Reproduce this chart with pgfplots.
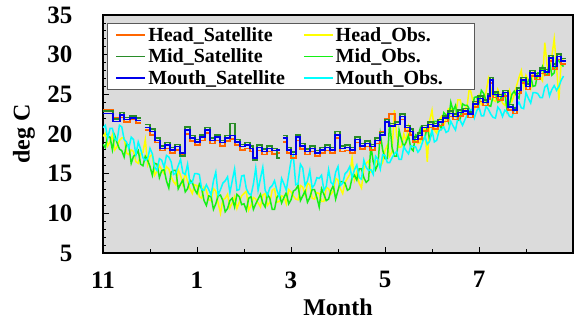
\documentclass[border=0pt]{standalone}
\usepackage{fontspec}
\setmainfont{Liberation Serif}
\usepackage{pgfplots}
\pgfplotsset{compat=1.18}
\usetikzlibrary{calc}
\definecolor{cOrange}{RGB}{255,102,0}
\definecolor{cDGreen}{RGB}{40,140,40}
\definecolor{cBlue}{RGB}{0,0,235}
\definecolor{cYellow}{RGB}{255,255,0}
\definecolor{cLGreen}{RGB}{20,240,20}
\definecolor{cCyan}{RGB}{0,255,255}
\begin{document}
\begin{tikzpicture}
\begin{axis}[
  name=ax,
  scale only axis,
  width=470pt, height=238pt,
  xmin=0, xmax=10, ymin=5, ymax=35,
  xtick={0,2,4,6,8}, xticklabels={11,1,3,5,7},
  minor xtick={1,3,5,7,9},
  ytick={5,10,...,35},
  minor y tick num=4,
  tick pos=left,
  tick align=inside,
  major tick length=6pt, minor tick length=3.5pt,
  every tick/.style={black, line width=0.8pt},
  axis line style={line width=1.6pt},
  axis background/.style={fill=black!14},
  /pgf/number format/assume math mode=true,
  tick label style={font=\bfseries\fontsize{25}{25}\selectfont},
  xticklabel style={yshift=-15pt},
  yticklabel style={xshift=-27pt},
  every axis x label/.style={at={(axis description cs:0.5,0)}, anchor=center, yshift=-54pt, font=\bfseries\fontsize{24}{24}\selectfont},
  every axis y label/.style={at={(axis description cs:0,0.5)}, xshift=-79pt, rotate=90, anchor=center, font=\bfseries\fontsize{24}{24}\selectfont},
  xlabel={Month}, ylabel={deg C},
  unbounded coords=jump,
  legend columns=2,
  legend cell align=left,
  legend image code/.code={\draw[#1, line width=1.8pt] (0pt,0pt) -- (29pt,0pt);},
  legend style={at={(axis description cs:0,1)}, anchor=north west, xshift=4pt, yshift=-8pt,
    draw=black!65, line width=1pt, fill=white, inner xsep=8pt, inner ysep=2pt, row sep=2pt,
    font=\bfseries\fontsize{20}{20}\selectfont,
    /tikz/every even column/.append style={column sep=16pt}},
]
\addlegendimage{cOrange}\addlegendentry{Head\_Satellite}
\addlegendimage{cYellow}\addlegendentry{Head\_Obs.}
\addlegendimage{cDGreen}\addlegendentry{Mid\_Satellite}
\addlegendimage{cLGreen}\addlegendentry{Mid\_Obs.}
\addlegendimage{cBlue}\addlegendentry{Mouth\_Satellite}
\addlegendimage{cCyan}\addlegendentry{Mouth\_Obs.\hspace*{22pt}}

% Head_Obs (yellow)
\addplot[cYellow, line width=1.5pt, forget plot] coordinates {
(0.0,19.7)(0.05,20.1)(0.1,18.5)(0.15,19.0)(0.2,19.9)(0.25,18.0)(0.3,18.4)(0.35,19.2)(0.4,19.5)(0.45,19.5)
(0.5,17.6)(0.55,17.4)(0.6,18.0)(0.65,17.8)(0.7,16.5)(0.75,16.3)(0.8,17.5)(0.85,17.7)(0.9,19.3)(0.95,16.2)
(1.0,17.2)(1.05,17.4)(1.1,14.8)(1.15,15.3)(1.2,16.0)(1.25,15.5)(1.3,15.0)(1.35,15.9)(1.4,15.6)(1.45,14.6)
(1.5,14.0)(1.55,13.6)(1.6,15.5)(1.65,14.8)(1.7,13.6)(1.75,15.1)(1.8,14.0)(1.85,13.1)(1.9,12.5)(1.95,13.6)
(2.0,13.5)(2.05,12.1)(2.1,11.9)(2.15,13.3)(2.2,12.9)(2.25,11.7)(2.3,11.6)(2.35,13.1)(2.4,12.8)(2.45,11.3)
(2.5,10.0)(2.55,11.7)(2.6,11.9)(2.65,12.4)(2.7,10.7)(2.75,11.3)(2.8,12.1)(2.85,10.6)(2.9,11.4)(2.95,12.2)
(3.0,12.5)(3.05,12.8)(3.1,10.4)(3.15,11.0)(3.2,12.0)(3.25,11.8)(3.3,11.3)(3.35,10.8)(3.4,12.3)(3.45,12.5)
(3.5,11.0)(3.55,11.4)(3.6,12.9)(3.65,13.1)(3.7,11.4)(3.75,11.5)(3.8,12.2)(3.85,12.1)(3.9,11.2)(3.95,13.0)
(4.0,12.7)(4.05,12.2)(4.1,11.8)(4.15,11.7)(4.2,13.5)(4.25,13.3)(4.3,12.3)(4.35,13.8)(4.4,13.6)(4.45,11.9)
(4.5,11.8)(4.55,12.6)(4.6,12.5)(4.65,11.5)(4.7,11.5)(4.75,13.3)(4.8,13.1)(4.85,12.4)(4.9,12.8)(4.95,14.4)
(5.0,14.2)(5.05,13.1)(5.1,12.5)(5.15,13.9)(5.2,14.4)(5.25,14.9)(5.3,17.0)(5.35,14.2)(5.4,15.2)(5.45,13.8)
(5.5,13.2)(5.55,15.6)(5.6,16.3)(5.65,16.6)(5.7,15.2)(5.75,15.4)(5.8,16.4)(5.85,16.8)(5.9,15.9)(5.95,16.4)
(6.0,17.9)(6.05,18.6)(6.1,17.2)(6.15,17.8)(6.2,23.0)(6.25,19.8)(6.3,18.3)(6.35,18.4)(6.4,20.0)(6.45,19.1)
(6.5,21.0)(6.55,20.0)(6.6,19.6)(6.65,19.3)(6.7,18.8)(6.75,18.9)(6.8,20.5)(6.85,20.7)(6.9,16.5)(6.95,21.7)
(7.0,23.0)(7.05,20.5)(7.1,20.1)(7.15,21.8)(7.2,22.2)(7.25,21.1)(7.3,21.9)(7.35,23.2)(7.4,23.2)(7.45,22.4)
(7.5,22.2)(7.55,24.3)(7.6,24.3)(7.65,22.9)(7.7,23.0)(7.75,23.7)(7.8,26.0)(7.85,24.7)(7.9,23.2)(7.95,24.1)
(8.0,24.9)(8.05,23.7)(8.1,23.9)(8.15,25.3)(8.2,27.0)(8.25,25.9)(8.3,24.3)(8.35,24.1)(8.4,25.6)(8.45,24.8)
(8.5,23.9)(8.55,23.6)(8.6,24.6)(8.65,25.5)(8.7,24.1)(8.75,24.9)(8.8,26.1)(8.85,27.1)(8.9,28.0)(8.95,25.9)
(9.0,27.4)(9.05,26.8)(9.1,25.7)(9.15,27.8)(9.2,27.6)(9.25,27.1)(9.3,27.2)(9.35,26.7)(9.4,31.5)(9.45,28.6)
(9.5,27.7)(9.55,29.8)(9.6,32.0)(9.65,28.5)(9.7,24.3)(9.75,29.4)(9.8,29.4)
};
% Mid_Obs (light green)
\addplot[cLGreen, line width=1.5pt, forget plot] coordinates {
(0.0,18.7)(0.05,18.3)(0.1,19.7)(0.15,19.6)(0.2,18.0)(0.25,19.8)(0.3,18.9)(0.35,18.1)(0.4,17.9)(0.45,17.1)
(0.5,18.8)(0.55,18.5)(0.6,16.3)(0.65,17.2)(0.7,17.4)(0.75,17.9)(0.8,16.2)(0.85,16.0)(0.9,17.2)(0.95,16.7)
(1.0,15.9)(1.05,14.8)(1.1,16.3)(1.15,16.2)(1.2,14.5)(1.25,15.4)(1.3,15.5)(1.35,14.1)(1.4,13.2)(1.45,15.2)
(1.5,15.4)(1.55,15.4)(1.6,13.1)(1.65,13.7)(1.7,14.2)(1.75,12.7)(1.8,13.1)(1.85,14.2)(1.9,13.9)(1.95,13.0)
(2.0,12.5)(2.05,13.7)(2.1,13.1)(2.15,11.6)(2.2,11.0)(2.25,12.2)(2.3,12.1)(2.35,10.5)(2.4,11.2)(2.45,12.2)
(2.5,12.3)(2.55,11.6)(2.6,10.2)(2.65,10.6)(2.7,11.6)(2.75,11.9)(2.8,10.8)(2.85,12.4)(2.9,12.1)(2.95,11.1)
(3.0,11.2)(3.05,10.4)(3.1,11.9)(3.15,12.1)(3.2,10.5)(3.25,11.2)(3.3,11.8)(3.35,12.4)(3.4,11.3)(3.45,10.8)
(3.5,12.4)(3.55,11.9)(3.6,10.5)(3.65,10.5)(3.7,12.0)(3.75,12.4)(3.8,11.3)(3.85,12.0)(3.9,12.6)(3.95,11.2)
(4.0,11.7)(4.05,12.8)(4.1,13.0)(4.15,13.5)(4.2,11.6)(4.25,12.2)(4.3,12.8)(4.35,11.4)(4.4,12.0)(4.45,13.0)
(4.5,13.0)(4.55,12.0)(4.6,10.8)(4.65,13.1)(4.7,12.4)(4.75,11.6)(4.8,11.8)(4.85,12.9)(4.9,13.5)(4.95,11.8)
(5.0,12.9)(5.05,14.0)(5.1,14.0)(5.15,13.8)(5.2,12.9)(5.25,13.1)(5.3,14.5)(5.35,14.8)(5.4,14.2)(5.45,15.6)
(5.5,15.6)(5.55,14.5)(5.6,13.9)(5.65,14.2)(5.7,18.5)(5.75,16.5)(5.8,15.5)(5.85,16.2)(5.9,20.0)(5.95,18.0)
(6.0,16.9)(6.05,16.9)(6.1,21.5)(6.15,18.3)(6.2,17.2)(6.25,17.2)(6.3,20.5)(6.35,19.3)(6.4,18.4)(6.45,19.0)
(6.5,19.8)(6.55,18.2)(6.6,17.9)(6.65,19.9)(6.7,19.7)(6.75,20.7)(6.8,19.2)(6.85,19.6)(6.9,20.9)(6.95,19.3)
(7.0,20.3)(7.05,21.6)(7.1,21.6)(7.15,21.2)(7.2,20.7)(7.25,22.7)(7.3,22.4)(7.35,21.5)(7.4,24.0)(7.45,22.9)
(7.5,23.6)(7.55,21.7)(7.6,21.9)(7.65,23.8)(7.7,23.6)(7.75,23.6)(7.8,23.1)(7.85,22.9)(7.9,24.6)(7.95,24.7)
(8.0,23.9)(8.05,25.5)(8.1,25.1)(8.15,24.2)(8.2,23.6)(8.25,23.5)(8.3,24.8)(8.35,25.2)(8.4,24.0)(8.45,24.2)
(8.5,25.1)(8.55,25.2)(8.6,22.9)(8.65,23.8)(8.7,25.0)(8.75,25.4)(8.8,24.8)(8.85,24.5)(8.9,26.6)(8.95,26.8)
(9.0,26.1)(9.05,26.7)(9.1,27.2)(9.15,26.0)(9.2,26.1)(9.25,27.7)(9.3,27.7)(9.35,28.5)(9.4,27.4)(9.45,27.5)
(9.5,29.1)(9.55,27.4)(9.6,27.7)(9.65,29.6)(9.7,29.2)(9.75,28.8)(9.8,28.5)
};
% Mouth_Obs (cyan)
\addplot[cCyan, line width=1.5pt, forget plot] coordinates {
(0.0,20.8)(0.05,21.1)(0.1,19.5)(0.15,20.7)(0.2,20.7)(0.25,19.4)(0.3,19.2)(0.35,21.1)(0.4,20.9)(0.45,19.3)
(0.5,19.0)(0.55,18.2)(0.6,19.6)(0.65,19.3)(0.7,17.4)(0.75,19.0)(0.8,18.1)(0.85,17.0)(0.9,16.7)(0.95,16.9)
(1.0,18.2)(1.05,17.5)(1.1,15.8)(1.15,15.4)(1.2,16.9)(1.25,16.7)(1.3,15.8)(1.35,17.3)(1.4,17.1)(1.45,16.5)
(1.5,14.9)(1.55,15.1)(1.6,16.0)(1.65,16.8)(1.7,15.1)(1.75,14.9)(1.8,16.2)(1.85,13.8)(1.9,13.9)(1.95,15.0)
(2.0,15.0)(2.05,14.9)(2.1,13.0)(2.15,12.9)(2.2,13.6)(2.25,13.0)(2.3,12.3)(2.35,14.1)(2.4,15.2)(2.45,12.3)
(2.5,13.0)(2.55,13.8)(2.6,14.1)(2.65,14.6)(2.7,12.6)(2.75,14.1)(2.8,15.6)(2.85,12.9)(2.9,13.0)(2.95,14.7)
(3.0,14.8)(3.05,13.1)(3.1,12.5)(3.15,12.3)(3.2,13.7)(3.25,15.7)(3.3,12.9)(3.35,14.4)(3.4,15.8)(3.45,12.9)
(3.5,12.3)(3.55,13.2)(3.6,13.5)(3.65,14.1)(3.7,12.9)(3.75,12.1)(3.8,14.4)(3.85,13.7)(3.9,12.9)(3.95,14.8)
(4.0,16.6)(4.05,17.3)(4.1,13.6)(4.15,13.7)(4.2,16.2)(4.25,15.7)(4.3,13.5)(4.35,14.1)(4.4,15.4)(4.45,13.2)
(4.5,13.6)(4.55,14.5)(4.6,14.4)(4.65,14.8)(4.7,12.9)(4.75,13.4)(4.8,15.5)(4.85,13.9)(4.9,13.6)(4.95,15.2)
(5.0,15.9)(5.05,13.5)(5.1,13.8)(5.15,15.0)(5.2,15.3)(5.25,15.9)(5.3,14.5)(5.35,15.5)(5.4,16.1)(5.45,14.5)
(5.5,14.3)(5.55,16.7)(5.6,15.8)(5.65,15.4)(5.7,15.5)(5.75,14.9)(5.8,17.2)(5.85,16.8)(5.9,15.6)(5.95,17.4)
(6.0,17.3)(6.05,16.4)(6.1,16.4)(6.15,17.0)(6.2,17.5)(6.25,17.8)(6.3,16.8)(6.35,16.8)(6.4,18.4)(6.45,17.9)
(6.5,17.5)(6.55,18.5)(6.6,18.4)(6.65,18.4)(6.7,17.7)(6.75,18.1)(6.8,19.0)(6.85,19.7)(6.9,18.7)(6.95,19.1)
(7.0,20.5)(7.05,19.0)(7.1,19.2)(7.15,20.4)(7.2,20.6)(7.25,20.9)(7.3,20.2)(7.35,20.4)(7.4,21.6)(7.45,21.0)
(7.5,20.5)(7.55,22.0)(7.6,21.7)(7.65,21.1)(7.7,21.8)(7.75,22.4)(7.8,23.1)(7.85,23.0)(7.9,22.0)(7.95,22.9)
(8.0,23.4)(8.05,22.3)(8.1,22.3)(8.15,23.5)(8.2,23.1)(8.25,22.5)(8.3,22.1)(8.35,22.0)(8.4,23.4)(8.45,23.0)
(8.5,22.2)(8.55,23.0)(8.6,22.8)(8.65,22.2)(8.7,22.1)(8.75,23.0)(8.8,23.5)(8.85,24.0)(8.9,23.3)(8.95,23.2)
(9.0,25.2)(9.05,24.5)(9.1,23.9)(9.15,25.2)(9.2,25.2)(9.25,25.1)(9.3,24.6)(9.35,24.6)(9.4,25.9)(9.45,26.2)
(9.5,24.8)(9.55,25.6)(9.6,26.1)(9.65,25.5)(9.7,26.0)(9.75,26.8)(9.8,27.3)
};
% Head_Satellite (orange)
\addplot[cOrange, line width=1.5pt, const plot, forget plot] coordinates {
(0,23.0)(0.21,22.0)(0.36,22.1)(0.45,21.5)(0.57,21.8)(0.70,21.4)(0.81,21.4)(0.82,nan)(0.89,20.5)(1.0,19.9)(1.11,18.9)(1.21,17.9)(1.32,18.2)(1.43,17.6)(1.53,18.0)(1.64,17.4)(1.74,20.0)(1.85,19.1)(1.96,18.6)(2.06,19.2)(2.17,20.1)(2.28,18.8)(2.38,19.2)(2.49,18.5)(2.60,19.1)(2.70,19.4)(2.81,18.6)(2.91,18.0)(3.02,18.2)(3.13,17.8)(3.19,16.8)(3.28,17.9)(3.38,17.4)(3.49,17.8)(3.60,17.5)(3.70,17.6)(3.77,17.6)(3.78,nan)(3.83,19.0)(3.91,17.6)(4.0,17.0)(4.11,19.2)(4.19,18.1)(4.30,17.4)(4.40,17.8)(4.51,17.2)(4.62,17.6)(4.72,17.9)(4.83,17.6)(4.94,19.5)(5.04,17.8)(5.15,17.9)(5.26,17.6)(5.36,18.9)(5.47,18.1)(5.57,18.4)(5.68,18.0)(5.79,18.8)(5.89,20.3)(6.0,21.9)(6.09,22.5)(6.21,21.6)(6.32,21.8)(6.43,20.4)(6.53,19.9)(6.60,19.0)(6.70,19.4)(6.79,20.4)(6.91,20.8)(7.02,20.6)(7.13,21.1)(7.23,21.6)(7.34,22.2)(7.45,21.8)(7.55,22.3)(7.66,22.5)(7.77,22.1)(7.87,23.4)(7.98,24.1)(8.09,23.6)(8.19,24.4)(8.23,26.4)(8.30,24.6)(8.40,24.3)(8.51,24.8)(8.62,23.0)(8.72,22.6)(8.81,25.1)(8.89,26.4)(9.00,25.6)(9.09,27.3)(9.19,26.9)(9.30,27.6)(9.40,27.4)(9.49,29.2)(9.57,28.1)(9.66,29.4)(9.74,28.8)(9.83,28.9)
};
% Mid_Satellite (dark green)
\addplot[cDGreen, line width=1.5pt, const plot, forget plot] coordinates {
(0,22.9)(0.21,21.9)(0.36,22.7)(0.45,22.1)(0.57,22.3)(0.70,22.0)(0.81,22.0)(0.82,nan)(0.89,21.2)(1.0,20.6)(1.11,19.5)(1.21,18.5)(1.32,18.9)(1.43,18.3)(1.53,18.7)(1.64,17.2)(1.74,20.9)(1.85,19.8)(1.96,19.3)(2.06,19.9)(2.17,20.8)(2.28,19.5)(2.38,19.9)(2.49,19.2)(2.60,19.8)(2.70,21.3)(2.81,19.3)(2.91,18.7)(3.02,18.9)(3.13,18.5)(3.19,16.7)(3.28,18.6)(3.38,18.1)(3.49,18.5)(3.60,18.2)(3.70,17.0)(3.77,17.0)(3.78,nan)(3.83,19.8)(3.91,18.3)(4.0,17.7)(4.11,19.9)(4.19,18.8)(4.30,18.1)(4.40,18.5)(4.51,17.9)(4.62,18.3)(4.72,18.6)(4.83,18.3)(4.94,20.3)(5.04,18.5)(5.15,18.6)(5.26,18.3)(5.36,19.6)(5.47,18.8)(5.57,19.1)(5.68,18.7)(5.79,19.5)(5.89,20.2)(6.0,21.8)(6.09,21.3)(6.21,21.5)(6.32,22.5)(6.43,21.1)(6.53,20.6)(6.60,19.6)(6.70,20.1)(6.79,21.1)(6.91,21.5)(7.02,21.3)(7.13,21.8)(7.23,22.3)(7.34,22.9)(7.45,22.5)(7.55,23.0)(7.66,23.2)(7.77,22.8)(7.87,24.1)(7.98,24.8)(8.09,24.3)(8.19,25.1)(8.23,27.1)(8.30,25.3)(8.40,25.0)(8.51,25.5)(8.62,23.7)(8.72,23.3)(8.81,25.8)(8.89,27.1)(9.00,26.3)(9.09,28.0)(9.19,27.6)(9.30,28.3)(9.40,28.1)(9.49,29.9)(9.57,28.8)(9.66,30.1)(9.74,29.5)(9.83,29.6)
};
% Mouth_Satellite (blue)
\addplot[cBlue, line width=1.5pt, const plot, forget plot] coordinates {
(0,22.6)(0.21,21.6)(0.36,22.4)(0.45,21.8)(0.57,22.0)(0.70,21.7)(0.81,21.7)(0.82,nan)(0.89,20.8)(1.0,20.3)(1.11,19.2)(1.21,18.2)(1.32,18.6)(1.43,18.0)(1.53,18.4)(1.64,17.6)(1.74,20.5)(1.85,19.5)(1.96,19.0)(2.06,19.6)(2.17,20.5)(2.28,19.2)(2.38,19.6)(2.49,18.9)(2.60,19.5)(2.70,19.8)(2.81,19.0)(2.91,18.4)(3.02,18.6)(3.13,18.2)(3.19,17.0)(3.28,18.3)(3.38,17.8)(3.49,18.2)(3.60,17.9)(3.70,18.0)(3.77,18.0)(3.78,nan)(3.83,19.5)(3.91,18.0)(4.0,17.4)(4.11,19.6)(4.19,18.5)(4.30,17.8)(4.40,18.2)(4.51,17.6)(4.62,18.0)(4.72,18.3)(4.83,18.0)(4.94,19.9)(5.04,18.2)(5.15,18.3)(5.26,18.0)(5.36,19.3)(5.47,18.5)(5.57,18.8)(5.68,18.4)(5.79,19.2)(5.89,19.9)(6.0,21.5)(6.09,21.0)(6.21,21.2)(6.32,22.2)(6.43,20.8)(6.53,20.3)(6.60,19.3)(6.70,19.8)(6.79,20.8)(6.91,21.2)(7.02,21.0)(7.13,21.5)(7.23,22.0)(7.34,22.6)(7.45,22.2)(7.55,22.7)(7.66,22.9)(7.77,22.5)(7.87,23.8)(7.98,24.5)(8.09,24.0)(8.19,24.8)(8.23,26.8)(8.30,25.0)(8.40,24.7)(8.51,25.2)(8.62,23.4)(8.72,23.0)(8.81,25.5)(8.89,26.8)(9.00,26.0)(9.09,27.7)(9.19,27.3)(9.30,28.0)(9.40,27.8)(9.49,29.6)(9.57,28.5)(9.66,29.8)(9.74,29.2)(9.83,29.3)
};
\end{axis}
\pgfresetboundingbox
\path ($(ax.south west)+(-103pt,-70pt)$) rectangle ($(ax.north east)+(3pt,15pt)$);
\end{tikzpicture}
\end{document}
